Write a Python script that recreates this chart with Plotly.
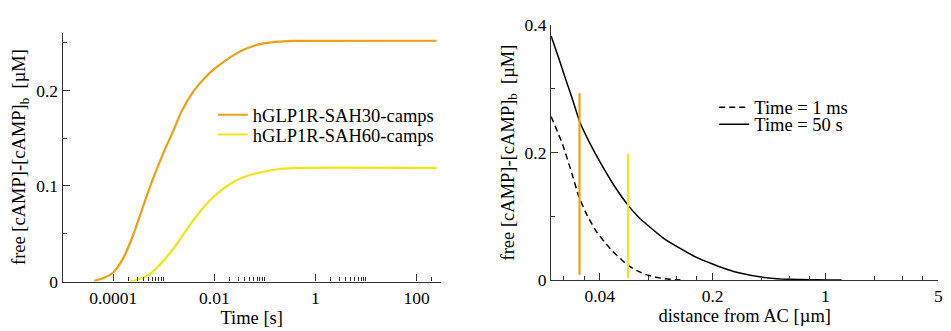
import plotly.graph_objects as go

# ---------------- Left panel data: free cAMP vs time ----------------
time_sah30 = [4.2e-5, 6.3e-5, 1.0e-4, 1.58e-4, 2.51e-4, 3.98e-4, 6.31e-4, 1.0e-3,
              1.58e-3, 2.19e-3, 3.98e-3, 6.31e-3, 0.01, 0.0158, 0.0251, 0.0398,
              0.0631, 0.1, 0.2, 0.4, 250]
conc_sah30 = [0.0007, 0.0035, 0.0095, 0.0245, 0.0495, 0.080, 0.1095, 0.1355,
              0.159, 0.177, 0.200, 0.2125, 0.2225, 0.2305, 0.2375, 0.243,
              0.247, 0.2495, 0.2512, 0.2518, 0.252]

time_sah60 = [2.1e-4, 2.8e-4, 5.1e-4, 9.3e-4, 1.74e-3, 3.16e-3, 5.75e-3, 0.0107,
              0.0195, 0.0363, 0.089, 0.2, 0.5, 250]
conc_sah60 = [0.0, 0.0013, 0.0072, 0.0203, 0.038, 0.058, 0.076, 0.0908,
              0.1013, 0.1088, 0.1147, 0.1178, 0.119, 0.119]

# ---------------- Right panel data: free cAMP vs distance ----------------
dist_1ms = [0.02, 0.0236, 0.0266, 0.0297, 0.0335, 0.0379, 0.043, 0.0481, 0.054,
            0.059, 0.068, 0.0773, 0.088, 0.098, 0.108, 0.118, 0.13]
conc_1ms = [0.2565, 0.2123, 0.171, 0.131, 0.101, 0.077, 0.059, 0.045, 0.033,
            0.024, 0.0145, 0.0083, 0.0045, 0.0024, 0.0011, 0.0003, 0.0]

dist_50s = [0.02, 0.0225, 0.025, 0.0275, 0.03, 0.035, 0.04, 0.05, 0.06, 0.07,
            0.08, 0.1, 0.13, 0.16, 0.2, 0.25, 0.3, 0.4, 0.5, 0.6, 0.8, 1.0, 1.26]
conc_50s = [0.383, 0.345, 0.310, 0.279, 0.249, 0.213, 0.186, 0.145, 0.117, 0.098,
            0.085, 0.065, 0.0476, 0.035, 0.025, 0.016, 0.0105, 0.0045, 0.0020,
            0.0009, 0.0002, 0.00004, 0.0]

marker_dist = [0.03, 0.06]
marker_low = [0.008, 0.003]
marker_high = [0.293, 0.198]
marker_colors = ["rgb(240,160,20)", "rgb(238,232,20)"]

left_xticks = [1e-4, 1e-2, 1, 100]
left_xticktext = ["0.0001", "0.01", "1", "100"]
left_xminor = [2e-4, 3e-4, 4e-4, 5e-4, 6e-4, 7e-4, 8e-4, 9e-4, 1e-3,
               0.02, 0.03, 0.04, 0.05, 0.06, 0.07, 0.08, 0.09, 0.1,
               2, 3, 4, 5, 6, 7, 8, 9, 10, 200, 300]
left_yticks = [0, 0.1, 0.2]
left_yticktext = ["0", "0.1", "0.2"]
left_yminor = [0.05, 0.15, 0.25]

right_xticks = [0.04, 0.2, 1, 5]
right_xticktext = ["0.04", "0.2", "1", "5"]
right_xminor = [0.024, 0.032, 0.08, 0.12, 0.16, 0.4, 0.6, 0.8, 2, 3, 4]
right_yticks = [0, 0.2, 0.4]
right_yticktext = ["0", "0.2", "0.4"]
right_yminor = [0.1, 0.3]

FONT = "Liberation Serif, Times New Roman, serif"
AXC = "#333333"
ORANGE = "rgb(240,160,20)"
YELLOW = "rgb(238,232,20)"
TICKF = dict(family=FONT, size=17.5, color="black")
TITLEF = dict(family=FONT, size=18.5, color="black")

fig = go.Figure()

fig.add_trace(go.Scatter(x=time_sah30, y=conc_sah30, mode="lines", name="hGLP1R-SAH30-camps",
                         line=dict(color=ORANGE, width=2.2, shape="spline", smoothing=0.6),
                         xaxis="x", yaxis="y", legend="legend"))
fig.add_trace(go.Scatter(x=time_sah60, y=conc_sah60, mode="lines", name="hGLP1R-SAH60-camps",
                         line=dict(color=YELLOW, width=2.2, shape="spline", smoothing=0.6),
                         xaxis="x", yaxis="y", legend="legend2"))

fig.add_trace(go.Scatter(x=dist_1ms, y=conc_1ms, mode="lines", name="Time = 1 ms",
                         line=dict(color="black", width=1.5, dash="6px,4px", shape="spline", smoothing=0.5),
                         xaxis="x2", yaxis="y2", legend="legend3"))
fig.add_trace(go.Scatter(x=dist_50s, y=conc_50s, mode="lines", name="Time = 50 s",
                         line=dict(color="black", width=1.5, shape="spline", smoothing=0.5),
                         xaxis="x2", yaxis="y2", legend="legend4"))

for d, lo, hi, c in zip(marker_dist, marker_low, marker_high, marker_colors):
    fig.add_trace(go.Scatter(x=[d, d], y=[lo, hi], mode="lines", showlegend=False,
                             line=dict(color=c, width=2.2), xaxis="x2", yaxis="y2"))

def axis_common():
    return dict(showline=True, linecolor=AXC, linewidth=1.3, showgrid=False, zeroline=False,
                ticks="inside", ticklen=7, tickwidth=1.3, tickcolor=AXC,
                tickfont=TICKF, tickmode="array")

def minor(vals):
    return dict(tickmode="array", tickvals=vals, ticks="inside", ticklen=4,
                tickcolor=AXC, tickwidth=1.2)

YTITLE = "free [cAMP]-[cAMP]<sub>b</sub>&nbsp; [µM]"

xa = axis_common()
xa.update(domain=[63/951, 443/951], type="log", range=[-5, 2.4771],
          tickvals=left_xticks, ticktext=left_xticktext, minor=minor(left_xminor),
          title=dict(text="Time [s]", font=TITLEF, standoff=0), anchor="y")
ya = axis_common()
ya.update(domain=[42/331, 307/331], range=[0, 0.2606],
          tickvals=left_yticks, ticktext=left_yticktext, minor=minor(left_yminor),
          title=dict(text=YTITLE, font=TITLEF, standoff=5), anchor="x")
xa2 = axis_common()
xa2.update(domain=[554/951, 943.3/951], type="log", range=[-1.69897, 0.69897],
           tickvals=right_xticks, ticktext=right_xticktext, minor=minor(right_xminor),
           title=dict(text="distance from AC [µm]", font=TITLEF, standoff=0), anchor="y2")
ya2 = axis_common()
ya2.update(domain=[43.7/331, 315/331], range=[0, 0.4],
           tickvals=right_yticks, ticktext=right_yticktext, minor=minor(right_yminor),
           title=dict(text=YTITLE, font=TITLEF, standoff=5), anchor="x2")

def leg(xpx, ypx):
    return dict(x=(xpx - 40) / 951, y=(331 - ypx) / 331, xanchor="left", yanchor="middle",
                bgcolor="rgba(0,0,0,0)", borderwidth=0, font=TITLEF)

fig.update_layout(
    width=951, height=331, autosize=False,
    margin=dict(l=0, r=0, t=0, b=0),
    paper_bgcolor="white", plot_bgcolor="white",
    font=dict(family=FONT, size=17.5, color="black"),
    xaxis=xa, yaxis=ya, xaxis2=xa2, yaxis2=ya2,
    legend=leg(254, 112), legend2=leg(254, 133),
    legend3=leg(758, 104), legend4=leg(758, 122),
)

fig.write_html("out.html")
